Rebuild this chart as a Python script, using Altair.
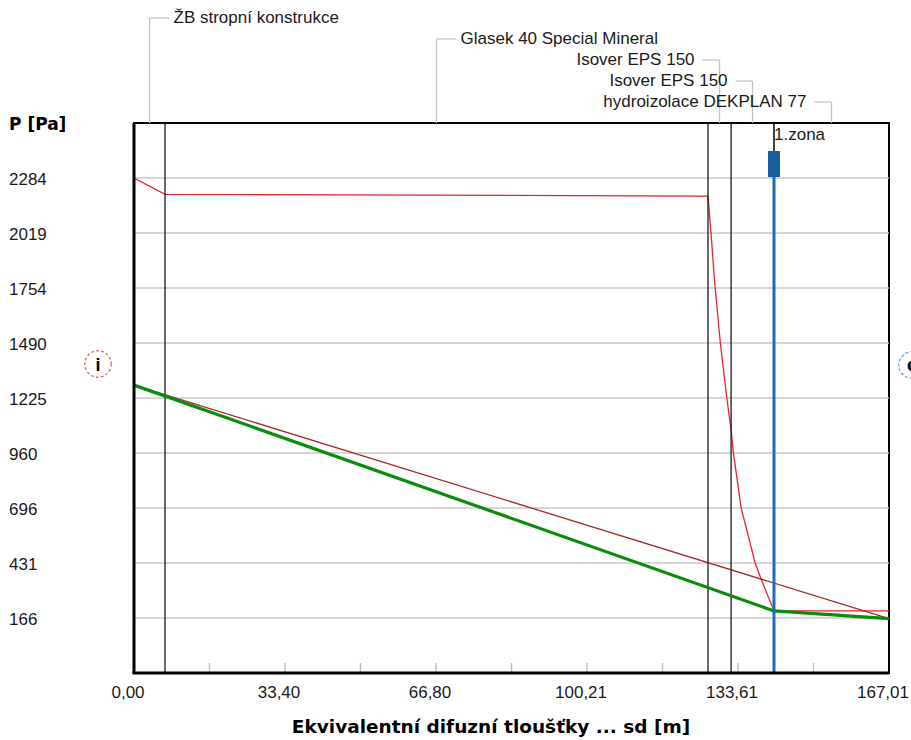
import altair as alt
import pandas as pd

FONT = "Liberation Sans, Arial, Helvetica, sans-serif"
BOLD_FONT = "DejaVu Sans, Liberation Sans, Arial, sans-serif"
TXT = "#1a1a1a"

# Construction layers and their boundaries on the sd axis [m]
layer_names = [
    "ŽB stropní konstrukce",
    "Glasek 40 Special Mineral",
    "Isover EPS 150",
    "Isover EPS 150",
    "hydroizolace DEKPLAN 77",
]
layer_bounds = [0.0, 6.86, 126.97, 132.08, 141.57, 167.01]
label_sides = ["right", "right", "left", "left", "left"]

# Saturated water vapour pressure p_sat [Pa]
psat_sd = [0.0, 6.86, 126.97, 127.64, 128.40, 129.70, 131.10, 132.08,
           132.60, 134.30, 137.40, 138.80, 141.57, 167.01]
psat_val = [2284, 2205, 2197, 2019, 1793, 1490, 1230, 1071,
            960, 696, 431, 349, 200, 200]

# Partial water vapour pressure without condensation [Pa]
pvap_sd = [0.0, 167.01]
pvap_val = [1287, 163]

# Partial water vapour pressure with the condensation zone [Pa]
pcond_sd = [0.0, 141.57, 167.01]
pcond_val = [1287, 200, 163]

# Condensation zone
zone_sd = [141.57]
zone_names = ["1.zona"]

# Axis ticks and labels
x_tick_values = [16.70, 33.40, 50.10, 66.80, 83.51, 100.21, 116.91, 133.61, 150.31]
x_label_values = [0.0, 33.40, 66.80, 100.21, 133.61, 167.01]
x_label_text = ["0,00", "33,40", "66,80", "100,21", "133,61", "167,01"]
y_tick_values = [166, 431, 696, 960, 1225, 1490, 1754, 2019, 2284]
y_label_text = ["166", "431", "696", "960", "1225", "1490", "1754", "2019", "2284"]

x_title = "Ekvivalentní difuzní tloušťky ... sd [m]"
y_title = "P [Pa]"

X_DOMAIN = [0.0, 167.01]
Y_DOMAIN = [-98.75, 2548.75]
W, H = 755, 550

xs = alt.Scale(domain=X_DOMAIN, nice=False, zero=False)
ys = alt.Scale(domain=Y_DOMAIN, nice=False, zero=False)


def xq(field):
    return alt.X(f"{field}:Q", scale=xs, axis=None)


def yq(field):
    return alt.Y(f"{field}:Q", scale=ys, axis=None)


psat_df = pd.DataFrame({"sd": psat_sd, "p": psat_val})
pvap_df = pd.DataFrame({"sd": pvap_sd, "p": pvap_val})
pcond_df = pd.DataFrame({"sd": pcond_sd, "p": pcond_val})
tick_df = pd.DataFrame({"sd": x_tick_values})
xlab_df = pd.DataFrame({"sd": x_label_values, "label": x_label_text})
ylab_df = pd.DataFrame({"p": y_tick_values, "label": y_label_text})
bound_df = pd.DataFrame({"sd": layer_bounds[1:-1]})
zone_df = pd.DataFrame({"sd": zone_sd, "name": zone_names})
one = pd.DataFrame({"x_title": [x_title], "y_title": [y_title], "sd0": [X_DOMAIN[0]]})

# horizontal grid
grid = alt.Chart(ylab_df).mark_rule(color="#c8c8c8", strokeWidth=1.5).encode(y=yq("p"))

# y tick labels and title
ylabels = alt.Chart(ylab_df).mark_text(
    align="left", baseline="middle", dy=2, font=FONT, fontSize=17, color=TXT
).encode(x=alt.value(-125), y=yq("p"), text="label:N")
ytitle = alt.Chart(one).mark_text(
    align="left", baseline="middle", font=BOLD_FONT, fontSize=17, fontWeight="bold", color="black"
).encode(x=alt.value(-125), y=alt.value(2), text="y_title:N")

# x tick marks pointing into the plot, tick labels and title
ticks = alt.Chart(tick_df).mark_rule(color="#c0c0c0", strokeWidth=1.5).encode(
    x=xq("sd"), y=alt.value(H - 10), y2=alt.value(H))
xlabels = alt.Chart(xlab_df).mark_text(
    align="center", baseline="top", dx=-6, font=FONT, fontSize=17, color=TXT
).encode(x=xq("sd"), y=alt.value(H + 12), text="label:N")
xtitle = alt.Chart(one).mark_text(
    align="center", baseline="middle", font=BOLD_FONT, fontSize=18.5, fontWeight="bold",
    color="black"
).encode(x=alt.value(357), y=alt.value(H + 54), text="x_title:N")

# layer boundaries
bounds = alt.Chart(bound_df).mark_rule(color="#1a1a1a", strokeWidth=1.3).encode(x=xq("sd"))

psat = alt.Chart(psat_df).mark_line(color="#e8232b", strokeWidth=1.3).encode(
    x=xq("sd"), y=yq("p"))
pvap = alt.Chart(pvap_df).mark_line(color="#a3282a", strokeWidth=1.3).encode(
    x=xq("sd"), y=yq("p"))
pcond = alt.Chart(pcond_df).mark_line(color="#0b8c0b", strokeWidth=3.2).encode(
    x=xq("sd"), y=yq("p"))

zone_line = alt.Chart(zone_df).mark_rule(color="#1f6cb0", strokeWidth=3).encode(
    x=xq("sd"), y=alt.value(54), y2=alt.value(H))
zone_box = alt.Chart(zone_df).mark_rule(color="#185d9c", strokeWidth=12).encode(
    x=xq("sd"), y=alt.value(28), y2=alt.value(54))
zone_stem = alt.Chart(zone_df).mark_rule(color="#1a1a1a", strokeWidth=1).encode(
    x=xq("sd"), y=alt.value(0), y2=alt.value(28))
zone_text = alt.Chart(zone_df).mark_text(
    align="left", baseline="middle", font=FONT, fontSize=17, color=TXT
).encode(x=xq("sd"), y=alt.value(12), text="name:N")

# thick left and bottom frame edges
left_edge = alt.Chart(one).mark_rule(color="black", strokeWidth=3).encode(x=xq("sd0"))
bottom_edge = alt.Chart(one).mark_rule(color="black", strokeWidth=3).encode(
    y=alt.value(H), x=alt.value(-1.5), x2=alt.value(W))

# layer captions above the plot, one row each, with gray leader lines
lead_color = "#c4c4c4"
caption_layers = []
for i, (name, side) in enumerate(zip(layer_names, label_sides)):
    mid = (layer_bounds[i] + layer_bounds[i + 1]) / 2
    row_y = -105 + 21 * i
    d = pd.DataFrame({"mid": [mid], "name": [name]})
    base = alt.Chart(d)
    caption_layers.append(base.mark_rule(color=lead_color, strokeWidth=1.3).encode(
        x=xq("mid"), y=alt.value(row_y), y2=alt.value(0)))
    if side == "right":
        stub = base.mark_rule(color=lead_color, strokeWidth=1.3, x2Offset=20)
        txt = base.mark_text(align="left", baseline="middle", dx=24,
                             font=FONT, fontSize=17, color=TXT)
    else:
        stub = base.mark_rule(color=lead_color, strokeWidth=1.3, xOffset=-17)
        txt = base.mark_text(align="right", baseline="middle", dx=-25,
                             font=FONT, fontSize=17, color=TXT)
    caption_layers.append(stub.encode(x=xq("mid"), x2="mid:Q", y=alt.value(row_y)))
    caption_layers.append(txt.encode(x=xq("mid"), y=alt.value(row_y), text="name:N"))

# interior / exterior markers
side_i = pd.DataFrame({"t": ["i"]})
side_e = pd.DataFrame({"t": ["e"]})
circ_i = alt.Chart(side_i).mark_point(
    shape="circle", size=700, filled=False, color="#e02828", strokeWidth=1.3, strokeDash=[3, 2]
).encode(x=alt.value(-36), y=alt.value(241))
txt_i = alt.Chart(side_i).mark_text(
    font=FONT, fontSize=18, fontWeight="bold", color="black", baseline="middle"
).encode(x=alt.value(-36), y=alt.value(243), text="t:N")
circ_e = alt.Chart(side_e).mark_point(
    shape="circle", size=700, filled=False, color="#2a78c0", strokeWidth=1.3, strokeDash=[3, 2]
).encode(x=alt.value(778), y=alt.value(242))
txt_e = alt.Chart(side_e).mark_text(
    font=FONT, fontSize=18, fontWeight="bold", color="black", baseline="middle"
).encode(x=alt.value(778), y=alt.value(243), text="t:N")

chart = alt.layer(
    grid, ticks, psat, pvap, bounds, pcond,
    zone_line, zone_box, zone_stem, zone_text,
    left_edge, bottom_edge,
    ylabels, ytitle, xlabels, xtitle,
    *caption_layers,
    circ_i, txt_i, circ_e, txt_e,
).properties(
    width=W, height=H,
    padding={"left": 134, "top": 123, "right": 22, "bottom": 67},
    autosize=alt.AutoSizeParams(type="none"),
    background="white",
).configure_view(stroke="black", strokeWidth=2)

chart.save("out.html", embed_options={"renderer": "svg", "actions": False})
